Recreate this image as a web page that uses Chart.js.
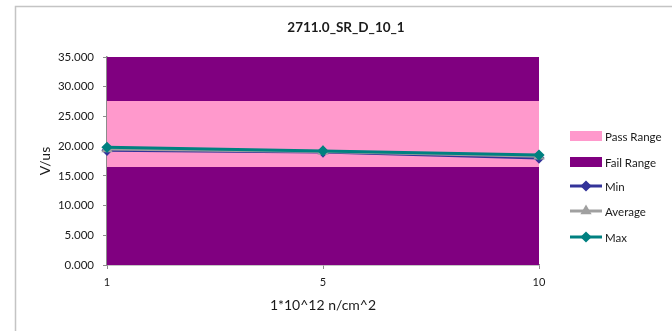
<!DOCTYPE html>
<html lang="en">
<head>
    <meta charset="UTF-8">
    <title>2711.0_SR_D_10_1</title>
    <script src="https://cdn.jsdelivr.net/npm/chart.js"></script>
    <style>
        html, body { margin: 0; padding: 0; background: #ffffff; }
        #wrap { width: 672px; height: 331px; position: relative; }
    </style>
</head>
<body>
    <div id="wrap"><canvas id="srChart"></canvas></div>

    <script>
        // data
        const chartTitle = '2711.0_SR_D_10_1';
        const fluence = ['1', '5', '10'];
        const passLow = [16.5, 16.5, 16.5];
        const passHigh = [27.6, 27.6, 27.6];
        const failTop = [35, 35, 35];
        const minVals = [19.3, 19.0, 18.0];
        const avgVals = [19.5, 19.1, 18.3];
        const maxVals = [19.8, 19.2, 18.5];

        const fontFam = 'Lato, "Open Sans", sans-serif';
        const axisGray = '#8c8c8c';

        // white background, frame line at top/left and the centred title
        const framePlugin = {
            id: 'frame',
            beforeDraw(chart) {
                const c = chart.ctx;
                c.save();
                c.fillStyle = '#ffffff';
                c.fillRect(0, 0, chart.width, chart.height);
                c.strokeStyle = '#c4c4c4';
                c.lineWidth = 1.5;
                c.beginPath();
                c.moveTo(15.5, chart.height);
                c.lineTo(15.5, 6.5);
                c.lineTo(chart.width, 6.5);
                c.stroke();
                c.font = 'bold 13.5px ' + fontFam;
                c.fillStyle = '#1a1a1a';
                c.textAlign = 'center';
                c.textBaseline = 'middle';
                c.fillText(chartTitle, 346, 28);
                c.restore();
            }
        };

        // excel style legend: swatches for areas, line+marker for series
        const legendPlugin = {
            id: 'xlLegend',
            afterDraw(chart) {
                const c = chart.ctx;
                const items = [
                    { ds: 0, y: 136, kind: 'box' },
                    { ds: 2, y: 162, kind: 'box' },
                    { ds: 3, y: 186, kind: 'line' },
                    { ds: 4, y: 211, kind: 'line' },
                    { ds: 5, y: 237, kind: 'line' }
                ];
                const x0 = 570, w = 32;
                c.save();
                c.font = '11.5px ' + fontFam;
                c.textBaseline = 'middle';
                items.forEach(it => {
                    const d = chart.data.datasets[it.ds];
                    if (it.kind === 'box') {
                        c.fillStyle = d.backgroundColor;
                        c.fillRect(x0, it.y - 5, w, 10);
                    } else {
                        c.strokeStyle = d.borderColor;
                        c.lineWidth = 3;
                        c.beginPath();
                        c.moveTo(x0, it.y);
                        c.lineTo(x0 + w, it.y);
                        c.stroke();
                        Chart.helpers.drawPoint(c, {
                            pointStyle: d.pointStyle, radius: 3.5, rotation: 0, borderWidth: 1
                        }, x0 + w / 2, it.y);
                        c.fillStyle = d.borderColor;
                        c.fill();
                    }
                    c.fillStyle = '#1a1a1a';
                    c.fillText(d.label, x0 + w + 3, it.y + 1);
                });
                c.restore();
            }
        };

        function lineSet(label, data, color, style, order) {
            return {
                label: label,
                data: data,
                borderColor: color,
                backgroundColor: color,
                pointBackgroundColor: color,
                pointBorderColor: color,
                pointStyle: style,
                pointRadius: 3.5,
                borderWidth: 3,
                fill: false,
                order: order
            };
        }

        new Chart(document.getElementById('srChart'), {
            type: 'line',
            data: {
                labels: fluence,
                datasets: [
                    { label: 'Pass Range', data: passHigh, backgroundColor: '#ff99cc', borderWidth: 0,
                      pointRadius: 0, fill: 1, order: 4 },
                    { label: 'passLow', data: passLow, backgroundColor: 'rgba(0,0,0,0)', borderWidth: 0,
                      pointRadius: 0, fill: false, order: 5 },
                    { label: 'Fail Range', data: failTop, backgroundColor: '#800080', borderWidth: 0,
                      pointRadius: 0, fill: 'origin', order: 6 },
                    lineSet('Min', minVals, '#333399', 'rectRot', 3),
                    lineSet('Average', avgVals, '#a0a0a0', 'triangle', 2),
                    lineSet('Max', maxVals, '#008080', 'rectRot', 1)
                ]
            },
            options: {
                responsive: true,
                maintainAspectRatio: false,
                animation: false,
                layout: { padding: { left: 15, right: 133, top: 57, bottom: 0 } },
                plugins: {
                    legend: { display: false },
                    tooltip: { enabled: false },
                    title: { display: false }
                },
                scales: {
                    x: {
                        offset: false,
                        grid: { drawOnChartArea: false, color: axisGray, tickLength: 4 },
                        border: { color: axisGray, width: 1.5 },
                        ticks: { color: '#1a1a1a', font: { family: fontFam, size: 11 }, padding: 7, maxRotation: 0 },
                        title: {
                            display: true, text: '1*10^12 n/cm^2', color: '#1a1a1a',
                            font: { family: fontFam, size: 14 }, padding: { top: 4, bottom: 17 }
                        },
                        afterFit(s) { s.height = 66; }
                    },
                    y: {
                        min: 0, max: 35,
                        grid: { drawOnChartArea: false, color: axisGray, tickLength: 4 },
                        border: { color: axisGray, width: 1.5 },
                        ticks: {
                            stepSize: 5, color: '#1a1a1a', font: { family: fontFam, size: 11.5 }, padding: 9,
                            callback: v => v.toFixed(3)
                        },
                        title: {
                            display: true, text: 'V/us', color: '#1a1a1a',
                            font: { family: fontFam, size: 14 }, padding: { top: 22, bottom: 0 }
                        },
                        afterFit(s) { s.width = 92; }
                    }
                }
            },
            plugins: [framePlugin, legendPlugin]
        });
    </script>
</body>
</html>
